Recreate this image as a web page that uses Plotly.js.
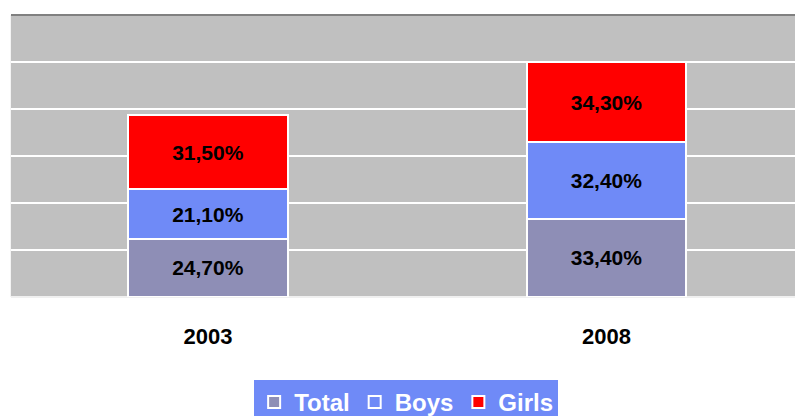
<!DOCTYPE html>
<html><head><meta charset="utf-8">
<script src="https://cdn.plot.ly/plotly-3.0.1.min.js"></script>
<style>html,body{margin:0;padding:0;background:#fff}#c{width:795px;height:416px}</style>
</head><body><div id="c"></div>
<script>
const years = ['2003', '2008'];
const total = [24.7, 33.4];
const boys = [21.1, 32.4];
const girls = [31.5, 34.3];
const seriesNames = ['Total', 'Boys', 'Girls'];
const colors = ['#8E8EB6', '#6F8AF7', '#FF0000'];

const fmt = v => v.toFixed(2).replace('.', ',') + '%';
const vals = [total, boys, girls];
const traces = vals.map((arr, i) => ({
  type: 'bar', x: years, y: arr, name: seriesNames[i],
  text: arr.map(fmt), textposition: 'inside', insidetextanchor: 'middle',
  textfont: {family: 'Liberation Sans, Arial', size: 21, color: '#000', weight: 'bold'},
  marker: {color: colors[i], line: {color: '#FFFFFF', width: 2}},
  width: 0.4, hoverinfo: 'none', cliponaxis: false
}));

const layout = {
  width: 795, height: 416,
  margin: {l: 11, r: 0, t: 15, b: 119, autoexpand: false},
  paper_bgcolor: '#FFFFFF', plot_bgcolor: '#C0C0C0',
  barmode: 'stack', separators: ',.',
  showlegend: true,
  legend: {orientation: 'h', x: 0.504, xanchor: 'center', y: -0.294, yanchor: 'top',
    bgcolor: '#6F8AF7', font: {family: 'Liberation Sans, Arial', size: 24, color: '#FFFFFF', weight: 'bold'},
    traceorder: 'normal', itemwidth: 30, tracegroupgap: 0},
  xaxis: {type: 'category', range: [-0.494, 1.473], showgrid: false, zeroline: false,
    showline: false, ticks: '', ticklabelstandoff: 24,
    tickfont: {family: 'Liberation Sans, Arial', size: 22, color: '#000', weight: 'bold'}},
  yaxis: {range: [0, 120], dtick: 20, showticklabels: false, showgrid: true,
    gridcolor: '#FFFFFF', gridwidth: 2, zeroline: true, zerolinecolor: '#F0F0F0', zerolinewidth: 2,
    showline: true, linecolor: '#F4F4F4', linewidth: 1},
  shapes: [{type: 'line', xref: 'paper', yref: 'paper', x0: 0, x1: 1, y0: 1, y1: 1,
    line: {color: '#808080', width: 2}}]
};
Plotly.newPlot('c', traces, layout, {displayModeBar: false, staticPlot: true});
</script></body></html>
